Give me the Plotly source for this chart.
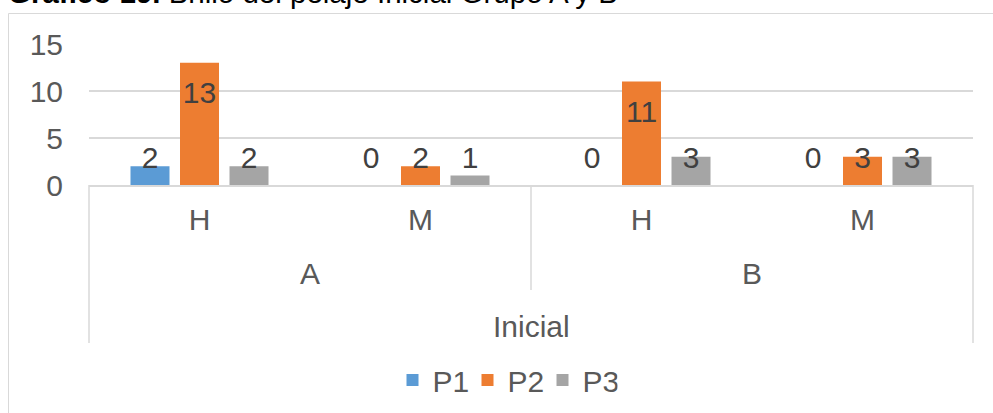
import plotly.graph_objects as go

# ---- data ----
categories = ["H", "M", "H", "M"]
groups = ["A", "B"]
outer_label = "Inicial"
series_names = ["P1", "P2", "P3"]
p1_values = [2, 0, 0, 0]
p2_values = [13, 2, 11, 3]
p3_values = [2, 1, 3, 3]
series_values = [p1_values, p2_values, p3_values]
colors = ["#5B9BD5", "#ED7D31", "#A5A5A5"]

W, H = 993, 413
ML, MR, MT, MB = 89, 20, 44, 228
PW, PH = W - ML - MR, H - MT - MB
YMAX = 15
BARGAP = 0.328
BARGROUPGAP = 0.212

FONT = "Liberation Sans, Arial, sans-serif"
AXIS_COLOR = "#595959"
LINE_COLOR = "#D9D9D9"

x_pos = list(range(len(categories)))
x_min, x_max = -0.5, len(categories) - 0.5


def py(pix):  # pixel y -> paper y
    return (H - MB - pix) / PH


def px(pix):  # pixel x -> paper x
    return (pix - ML) / PW


def dx(xd):  # data x -> paper x
    return (xd - x_min) / (x_max - x_min)


fig = go.Figure()
for name, vals, col in zip(series_names, series_values, colors):
    fig.add_trace(go.Bar(
        x=x_pos, y=vals, name=name,
        marker=dict(color=col, line=dict(width=0)),
        hoverinfo="y+name",
    ))

# data labels (text positioned from values)
slot = (1 - BARGAP) / len(series_names)
for i, vals in enumerate(series_values):
    off = (i - (len(series_names) - 1) / 2) * slot
    fig.add_trace(go.Scatter(
        x=[x + off for x in x_pos],
        y=[max(v - 3.45, 2.6) for v in vals],
        text=[str(v) for v in vals],
        mode="text", textposition="middle center",
        textfont=dict(family=FONT, size=30, color="#404040"),
        showlegend=False, hoverinfo="skip", cliponaxis=False,
    ))

shapes = []
# outer chart frame
shapes.append(dict(type="rect", xref="paper", yref="paper",
                   x0=px(8.5), y0=py(13.5), x1=px(W + 20), y1=py(H + 20),
                   line=dict(color=LINE_COLOR, width=1), layer="below"))
# multi-level category box lines
for xv, bottom in [(x_min, 343), (x_max, 343), ((x_min + x_max) / 2, 290)]:
    shapes.append(dict(type="line", xref="paper", yref="paper",
                       x0=dx(xv), x1=dx(xv), y0=0, y1=py(bottom),
                       line=dict(color=LINE_COLOR, width=1.5)))

annotations = []
for gi, g in enumerate(groups):
    annotations.append(dict(x=0.5 + 2 * gi, xref="x", y=py(273), yref="paper",
                            text=g, showarrow=False, yanchor="middle",
                            font=dict(family=FONT, size=30, color=AXIS_COLOR)))
annotations.append(dict(x=(x_min + x_max) / 2, xref="x", y=py(326), yref="paper",
                        text=outer_label, showarrow=False, yanchor="middle",
                        font=dict(family=FONT, size=30, color=AXIS_COLOR)))
annotations.append(dict(x=px(6), xref="paper", y=py(-7.7), yref="paper",
                        xanchor="left", yanchor="middle", showarrow=False,
                        text="<b>Gráfico 19.</b> Brillo del pelaje Inicial Grupo A y B",
                        font=dict(family=FONT, size=29.5, color="#000000")))

fig.update_layout(
    template="none",
    width=W, height=H,
    margin=dict(l=ML, r=MR, t=MT, b=MB, pad=0, autoexpand=False),
    paper_bgcolor="white", plot_bgcolor="white",
    barmode="group", bargap=BARGAP, bargroupgap=BARGROUPGAP,
    font=dict(family=FONT, size=30, color=AXIS_COLOR),
    shapes=shapes, annotations=annotations,
    legend=dict(orientation="h", x=px(505), xanchor="center",
                y=py(380), yanchor="middle",
                entrywidth=30, entrywidthmode="pixels",
                font=dict(family=FONT, size=30, color=AXIS_COLOR),
                itemclick=False, itemdoubleclick=False),
    xaxis=dict(range=[x_min, x_max], tickvals=x_pos, ticktext=categories,
               automargin=False,
               showline=True, linecolor=LINE_COLOR, linewidth=1.5,
               showgrid=False, zeroline=False, ticks="",
               ticklabelstandoff=7,
               tickfont=dict(family=FONT, size=30, color=AXIS_COLOR)),
    yaxis=dict(range=[0, YMAX], tickvals=[0, 5, 10, 15],
               automargin=False,
               showline=False, zeroline=False, showgrid=True,
               gridcolor=LINE_COLOR, gridwidth=1.5, ticks="",
               ticklabelstandoff=25,
               tickfont=dict(family=FONT, size=30, color=AXIS_COLOR)),
)

fig.write_html("out.html", config={"displayModeBar": False},
               post_script="document.body.style.margin='0';")
